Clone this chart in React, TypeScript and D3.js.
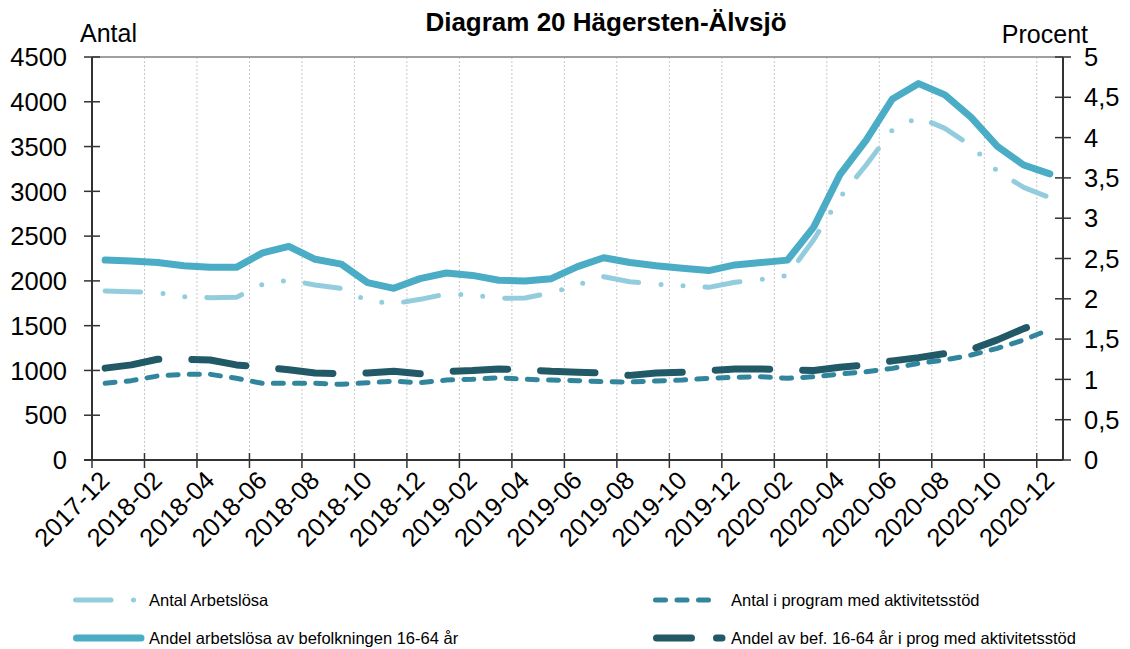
import React from 'react';
import * as d3 from 'd3';

const months = [
  '2017-12', '2018-01', '2018-02', '2018-03', '2018-04', '2018-05', '2018-06', '2018-07', '2018-08', '2018-09', '2018-10', '2018-11',
  '2018-12', '2019-01', '2019-02', '2019-03', '2019-04', '2019-05', '2019-06', '2019-07', '2019-08', '2019-09', '2019-10', '2019-11',
  '2019-12', '2020-01', '2020-02', '2020-03', '2020-04', '2020-05', '2020-06', '2020-07', '2020-08', '2020-09', '2020-10', '2020-11',
  '2020-12',
];

const tickMonths = [
  '2017-12', '2018-02', '2018-04', '2018-06', '2018-08', '2018-10', '2018-12', '2019-02', '2019-04', '2019-06',
  '2019-08', '2019-10', '2019-12', '2020-02', '2020-04', '2020-06', '2020-08', '2020-10', '2020-12',
];

// Left axis (Antal)
const antalArbetslosa = [
  1887, 1880, 1870, 1824, 1812, 1816, 1962, 2010, 1954, 1917, 1779, 1745,
  1794, 1853, 1842, 1805, 1809, 1868, 1954, 2047, 1991, 1962, 1947, 1928,
  1984, 2016, 2060, 2460, 2933, 3294, 3685, 3827, 3703, 3510, 3225, 3045,
  2930,
];
const antalProgram = [
  856, 886, 938, 957, 957, 912, 856, 856, 856, 845, 863, 880,
  863, 893, 901, 919, 901, 893, 886, 875, 871, 882, 893, 912,
  923, 930, 912, 930, 960, 986, 1023, 1080, 1117, 1172, 1247, 1340,
  1459,
];
// Right axis (Procent)
const andelArbetslosa = [
  2.48, 2.47, 2.45, 2.41, 2.39, 2.39, 2.57, 2.65, 2.49, 2.43, 2.2, 2.13,
  2.25, 2.32, 2.29, 2.23, 2.22, 2.25, 2.4, 2.51, 2.45, 2.41, 2.38, 2.35,
  2.42, 2.45, 2.48, 2.89, 3.54, 3.97, 4.48, 4.67, 4.53, 4.25, 3.89, 3.66,
  3.55,
];
const andelProgram = [
  1.14, 1.18, 1.25, 1.25, 1.24, 1.18, 1.15, 1.12, 1.08, 1.07, 1.08, 1.1,
  1.07, 1.1, 1.11, 1.13, 1.12, 1.1, 1.09, 1.08, 1.05, 1.08, 1.09, 1.11,
  1.13, 1.13, 1.12, 1.11, 1.15, 1.18, 1.23, 1.27, 1.32, 1.37, 1.49, 1.63,
  1.74,
];

const leftTicks = [0, 500, 1000, 1500, 2000, 2500, 3000, 3500, 4000, 4500];
const rightTicks = [0, 0.5, 1, 1.5, 2, 2.5, 3, 3.5, 4, 4.5, 5];
const rightTickLabels = ['0', '0,5', '1', '1,5', '2', '2,5', '3', '3,5', '4', '4,5', '5'];

const C_SOLID = '#4bacc6';
const C_LIGHT = '#93cddd';
const C_DASH = '#31859c';
const C_DARK = '#215967';

const FONT = 'Liberation Sans, Arial, sans-serif';

export default function App() {
  const left = 92;
  const right = 1063;
  const top = 57;
  const bottom = 460;

  const x = d3.scaleBand<string>().domain(months).range([left, right]).padding(0);
  const yL = d3.scaleLinear().domain([0, 4500]).range([bottom, top]);
  const yR = d3.scaleLinear().domain([0, 5]).range([bottom, top]);
  const cx = (i: number) => (x(months[i]) as number) + x.bandwidth() / 2;

  const lineL = d3.line<number>().x((_, i) => cx(i)).y((d) => yL(d));
  const lineR = d3.line<number>().x((_, i) => cx(i)).y((d) => yR(d));

  return (
    <svg width={1130} height={649} style={{ position: 'absolute', left: 0, top: 0, background: '#fff' }} fontFamily={FONT}>
      <rect x={0} y={0} width={1130} height={649} fill="#fff" />
      {/* title */}
      <text x={606} y={31} textAnchor="middle" fontSize={26} fontWeight="bold" fill="#000">
        Diagram 20 Hägersten-Älvsjö
      </text>
      <text x={80} y={42} fontSize={25} fill="#000">Antal</text>
      <text x={1088} y={43} fontSize={25} fill="#000" textAnchor="end">Procent</text>

      {/* gridlines */}
      {tickMonths.slice(1).map((m) => (
        <line key={'g' + m} x1={x(m)} x2={x(m)} y1={top} y2={bottom} stroke="#c8c8c8" strokeWidth={1} strokeDasharray="2 2" />
      ))}
      {/* top border */}
      <line x1={left} x2={right} y1={top} y2={top} stroke="#a0a0a0" strokeWidth={2} />

      {/* series */}
      <path d={lineL(antalArbetslosa) || ''} fill="none" stroke={C_LIGHT} strokeWidth={5} strokeLinecap="round" strokeLinejoin="round" strokeDasharray="35.5 22.5 0 22 0 22" />
      <path d={lineR(andelArbetslosa) || ''} fill="none" stroke={C_SOLID} strokeWidth={7} strokeLinecap="round" strokeLinejoin="round" />
      <path d={lineL(antalProgram) || ''} fill="none" stroke={C_DASH} strokeWidth={5} strokeLinecap="round" strokeLinejoin="round" strokeDasharray="10 11.2" />
      <path d={lineR(andelProgram) || ''} fill="none" stroke={C_DARK} strokeWidth={7} strokeLinecap="round" strokeLinejoin="round" strokeDasharray="54.5 33" />

      {/* left axis */}
      <line x1={left} x2={left} y1={top} y2={bottom} stroke="#333" strokeWidth={2} />
      {leftTicks.map((t) => (
        <g key={'l' + t}>
          <line x1={left - 8} x2={left + 8} y1={yL(t)} y2={yL(t)} stroke="#333" strokeWidth={1.5} />
          <text x={67} y={yL(t)} dy="0.36em" textAnchor="end" fontSize={25.5} fill="#000">{t}</text>
        </g>
      ))}
      {/* right axis */}
      <line x1={right} x2={right} y1={top} y2={bottom} stroke="#333" strokeWidth={2} />
      {rightTicks.map((t, i) => (
        <g key={'r' + t}>
          <line x1={right - 8} x2={right + 8} y1={yR(t)} y2={yR(t)} stroke="#333" strokeWidth={1.5} />
          <text x={1084} y={yR(t)} dy="0.36em" textAnchor="start" fontSize={25.5} fill="#000">{rightTickLabels[i]}</text>
        </g>
      ))}
      {/* bottom axis */}
      <line x1={left - 8} x2={right} y1={bottom} y2={bottom} stroke="#333" strokeWidth={2} />
      {tickMonths.map((m) => (
        <line key={'t' + m} x1={x(m)} x2={x(m)} y1={bottom - 7} y2={bottom + 8} stroke="#333" strokeWidth={1.5} />
      ))}
      {tickMonths.map((m) => {
        const px = (x(m) as number) + x.bandwidth() / 2 + 6;
        const py = 482;
        return (
          <text key={'x' + m} x={px} y={py} textAnchor="end" fontSize={25.5} fill="#000" transform={`rotate(-45 ${px} ${py})`}>
            {m}
          </text>
        );
      })}

      {/* legend */}
      <g fontSize={16.5} fill="#000">
        <line x1={75.5} x2={134} y1={600} y2={600} stroke={C_LIGHT} strokeWidth={5} strokeLinecap="round" strokeDasharray="35.5 22.5 0 22 0 22" />
        <text x={149} y={600} dy="0.35em">Antal Arbetslösa</text>
        <line x1={76.5} x2={141} y1={638} y2={638} stroke={C_SOLID} strokeWidth={7} strokeLinecap="round" />
        <text x={149} y={638} dy="0.35em">Andel arbetslösa av befolkningen 16-64 år</text>

        <line x1={655.5} x2={720} y1={600} y2={600} stroke={C_DASH} strokeWidth={5} strokeLinecap="round" strokeDasharray="10 11.5" />
        <text x={731} y={600} dy="0.35em">Antal i program med aktivitetsstöd</text>
        <line x1={656.5} x2={722} y1={638} y2={638} stroke={C_DARK} strokeWidth={7} strokeLinecap="round" strokeDasharray="35 25" />
        <text x={731} y={638} dy="0.35em">Andel av bef. 16-64 år i prog med aktivitetsstöd</text>
      </g>
    </svg>
  );
}
